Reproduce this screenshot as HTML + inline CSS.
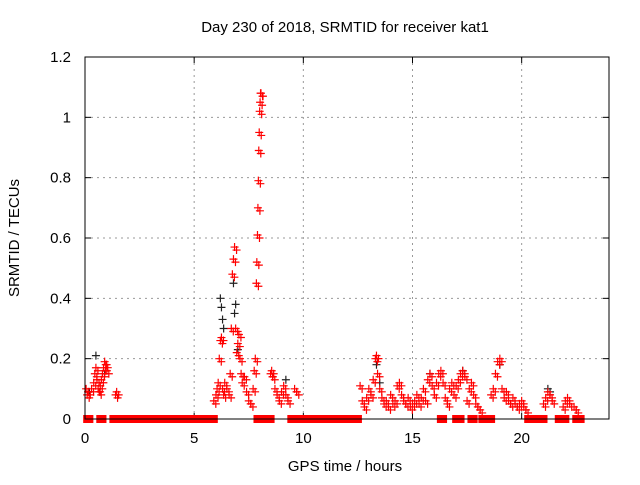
<!DOCTYPE html>
<html><head><meta charset="utf-8"><style>
body{margin:0;background:#fff;}
svg text{font-family:"Liberation Sans",sans-serif;font-size:15px;fill:#000;}
</style></head><body>
<svg id="chart" width="640" height="480" viewBox="0 0 640 480" xmlns="http://www.w3.org/2000/svg">
<rect width="640" height="480" fill="#fff"/>
<text x="345" y="32" text-anchor="middle">Day 230 of 2018, SRMTID for receiver kat1</text>
<text x="345" y="471" text-anchor="middle">GPS time / hours</text>
<text transform="translate(19,238) rotate(-90)" text-anchor="middle">SRMTID / TECUs</text>
<g id="grid"></g><g id="ticks"></g><g id="black"></g><g id="red"></g>
<rect x="85" y="57" width="524" height="362" fill="none" stroke="#000" stroke-width="1"/>
</svg>
<script>
const xTicks=[0,5,10,15,20];
const yTicks=[0,0.2,0.4,0.6,0.8,1,1.2];
const yTickLabels=["0","0.2","0.4","0.6","0.8","1","1.2"];
const redTimes=[0.05,0.1,0.15,0.3,0.4,0.45,0.5,0.55,0.6,0.65,0.7,0.75,0.8,0.85,0.9,0.95,1.0,1.4,1.45,
5.9,6.0,6.05,6.1,6.15,6.2,6.25,6.3,6.35,6.4,6.5,6.6,6.65,6.7,6.75,6.8,6.85,6.9,6.95,7.0,7.05,7.1,7.15,7.2,7.3,7.4,7.5,7.6,7.7,7.75,7.8,7.85,7.87,7.9,7.92,7.94,7.96,7.98,8.0,8.02,8.04,8.06,8.5,8.55,8.6,8.7,8.8,8.9,9.0,9.1,9.2,9.3,9.6,9.7,
12.6,12.7,12.8,12.9,13.0,13.1,13.2,13.3,13.35,13.4,13.5,13.6,13.7,13.8,13.9,14.0,14.1,14.2,14.3,14.4,14.5,14.6,14.7,14.8,14.9,15.0,15.1,15.2,15.3,15.4,15.5,15.6,15.7,15.8,15.9,16.0,16.1,16.2,16.3,16.4,16.5,16.6,16.7,16.8,16.9,17.0,17.1,17.2,17.3,17.4,17.5,17.6,17.7,17.8,17.9,18.0,18.1,18.6,18.7,18.8,18.9,19.0,19.1,19.2,19.3,19.4,19.5,19.6,19.7,19.8,19.9,20.0,20.1,20.2,21.0,21.1,21.2,21.3,21.4,21.9,22.0,22.1,22.2,22.4,22.5];
const redValues=[0.1,0.08,0.09,0.1,0.12,0.15,0.17,0.13,0.1,0.09,0.11,0.13,0.15,0.17,0.19,0.18,0.16,0.08,0.09,
0.06,0.08,0.1,0.12,0.2,0.26,0.27,0.1,0.08,0.12,0.1,0.08,0.15,0.3,0.48,0.53,0.57,0.3,0.22,0.25,0.28,0.2,0.15,0.12,0.14,0.09,0.06,0.05,0.1,0.16,0.2,0.45,0.52,0.61,0.7,0.79,0.89,0.95,1.02,1.05,1.08,1.08,0.15,0.16,0.14,0.1,0.08,0.06,0.09,0.11,0.08,0.06,0.1,0.09,
0.11,0.06,0.04,0.07,0.1,0.08,0.13,0.2,0.21,0.15,0.1,0.07,0.05,0.06,0.04,0.08,0.05,0.06,0.11,0.12,0.08,0.06,0.05,0.07,0.04,0.05,0.06,0.08,0.05,0.07,0.1,0.06,0.13,0.15,0.11,0.08,0.12,0.15,0.16,0.12,0.07,0.05,0.1,0.12,0.08,0.11,0.13,0.15,0.16,0.14,0.06,0.1,0.12,0.08,0.05,0.04,0.03,0.08,0.1,0.15,0.19,0.2,0.1,0.07,0.09,0.06,0.05,0.07,0.05,0.04,0.05,0.06,0.04,0.03,0.05,0.07,0.09,0.08,0.06,0.04,0.06,0.07,0.05,0.04,0.03];
const blackTimes=[0.2,0.5,0.9,6.2,6.25,6.3,6.35,6.8,6.85,6.9,7.0,9.2,13.35,13.5,15.8,17.3,19.0,21.2,21.3];
const blackValues=[0.09,0.21,0.15,0.4,0.37,0.33,0.3,0.45,0.35,0.38,0.23,0.13,0.18,0.12,0.15,0.16,0.18,0.1,0.09];
const zeroStarts=[0.1,0.7,1.3,7.9,9.45,10.0,16.3,17.0,17.7,18.2,20.3,21.7,22.5];
const zeroEnds=[0.2,0.8,5.9,8.5,9.8,12.5,16.4,17.2,17.8,18.6,21.0,22.0,22.7];
const X=h=>85+h*(524/24), Y=v=>419-v*(362/1.2);
const NS="http://www.w3.org/2000/svg";
function mk(t,a,p){const e=document.createElementNS(NS,t);for(const k in a)e.setAttribute(k,a[k]);p.appendChild(e);return e;}
const grid=document.getElementById('grid'),ticks=document.getElementById('ticks');
xTicks.forEach(t=>{const x=X(t);
 if(t>0){const g=mk('line',{x1:x,x2:x,y1:57,y2:419,stroke:'#999','stroke-dasharray':'2,4'},grid);
 
 }
 mk('line',{x1:x,x2:x,y1:419,y2:413,stroke:'#000'},ticks);mk('line',{x1:x,x2:x,y1:57,y2:63,stroke:'#000'},ticks);
 const l=mk('text',{x:x,y:443,'text-anchor':'middle'},ticks);l.textContent=t;
 
 });
yTicks.forEach((v,i)=>{const y=Y(v);
 if(v>0&&v<1.2){const g=mk('line',{x1:85,x2:609,y1:y,y2:y,stroke:'#999','stroke-dasharray':'2,4'},grid);
 
 }
 mk('line',{x1:85,x2:91,y1:y,y2:y,stroke:'#000'},ticks);mk('line',{x1:609,x2:603,y1:y,y2:y,stroke:'#000'},ticks);
 const l=mk('text',{x:71,y:y+5,'text-anchor':'end'},ticks);l.textContent=yTickLabels[i];
 
 });
function plus(g,x,y,c,name){const p=mk('path',{d:`M${x-4} ${y}h8M${x} ${y-4}v8`,stroke:c,'stroke-width':1.2,fill:'none'},g);
 
 }
const bg=document.getElementById('black'),rg=document.getElementById('red');
blackTimes.forEach((t,i)=>plus(bg,X(t),Y(blackValues[i]),'#222','black-point'));
redTimes.forEach((t,i)=>{plus(rg,X(t),Y(redValues[i]),'#f00','red-point');plus(rg,X(t)+2,Y(redValues[i])+3,'#f00','red-point');});
zeroStarts.forEach((s,i)=>{const r=mk('rect',{x:X(s)-4,y:415,width:X(zeroEnds[i])-X(s)+8,height:8,fill:'#f00'},rg);
 
 });
</script>
</body></html>
